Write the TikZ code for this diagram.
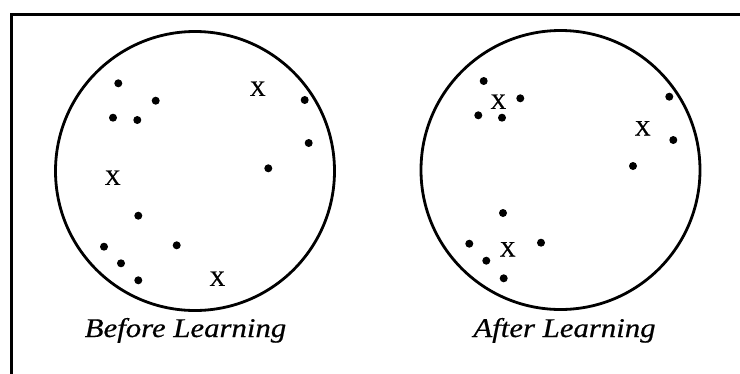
\documentclass[tikz,border=0pt]{standalone}
\usepackage{fontspec}
\setmainfont{Liberation Serif}
\newfontfamily\labfont[FakeStretch=1.14,FakeBold=0.5]{Liberation Serif}
\newfontfamily\xfont[FakeBold=0.8]{Liberation Serif}
\begin{document}
\begin{tikzpicture}[x=1pt,y=-1pt,
  ring/.style={draw=black,line width=2.8pt},
  pt/.style={circle,fill=black,inner sep=0pt,minimum size=8pt},
  cx/.style={inner sep=0pt,font=\xfont\fontsize{22}{22}\selectfont},
  lab/.style={inner sep=0pt,anchor=base,font=\labfont\itshape\fontsize{27}{27}\selectfont},
  frame/.style={draw=black,line width=2.8pt}]
\useasboundingbox (0,0) rectangle (740,373);
% frame
\coordinate (ftr) at (742,14.5);
\coordinate (ftl) at (11.3,14.5);
\coordinate (fbl) at (11.3,375);
\draw[frame] (ftr) -- (ftl) -- (fbl);
% circles
\node[ring,circle,minimum size=279pt,inner sep=0pt] (c1) at (195,171) {};
\node[ring,circle,minimum size=279pt,inner sep=0pt] (c2) at (560.5,170) {};
% left dots
\foreach \n/\x/\y in {a/118.3/83.3,b/155.7/100.7,c/113/117.7,d/137.3/120,e/304.7/100,f/308.7/143,g/268.3/168.3,h/138.3/215.7,i/104/246.7,j/176.7/245.3,k/121/263.3,l/138.3/280.3}
  \node[pt] (L\n) at (\x,\y) {};
\node[cx] (Lx1) at (257.7,88.7) {X};
\node[cx] (Lx2) at (112.7,177.7) {X};
\node[cx] (Lx3) at (217.3,278.7) {X};
% right dots
\foreach \n/\x/\y in {a/483.7/81,b/520.3/98.3,c/478.3/115.3,d/502/117.7,e/669.3/96.7,f/673.3/140,g/633/166,h/503/213,i/469.3/243.7,j/541/242.7,k/486.3/260.7,l/503.7/278.3}
  \node[pt] (R\n) at (\x,\y) {};
\node[cx] (Rx1) at (498.3,101.7) {X};
\node[cx] (Rx2) at (642.7,128.3) {X};
\node[cx] (Rx3) at (507.7,249.3) {X};
% labels
\node[lab] (t1) at (185.5,337) {Before Learning};
\node[lab] (t2) at (564.5,337) {After Learning};
\end{tikzpicture}
\end{document}
